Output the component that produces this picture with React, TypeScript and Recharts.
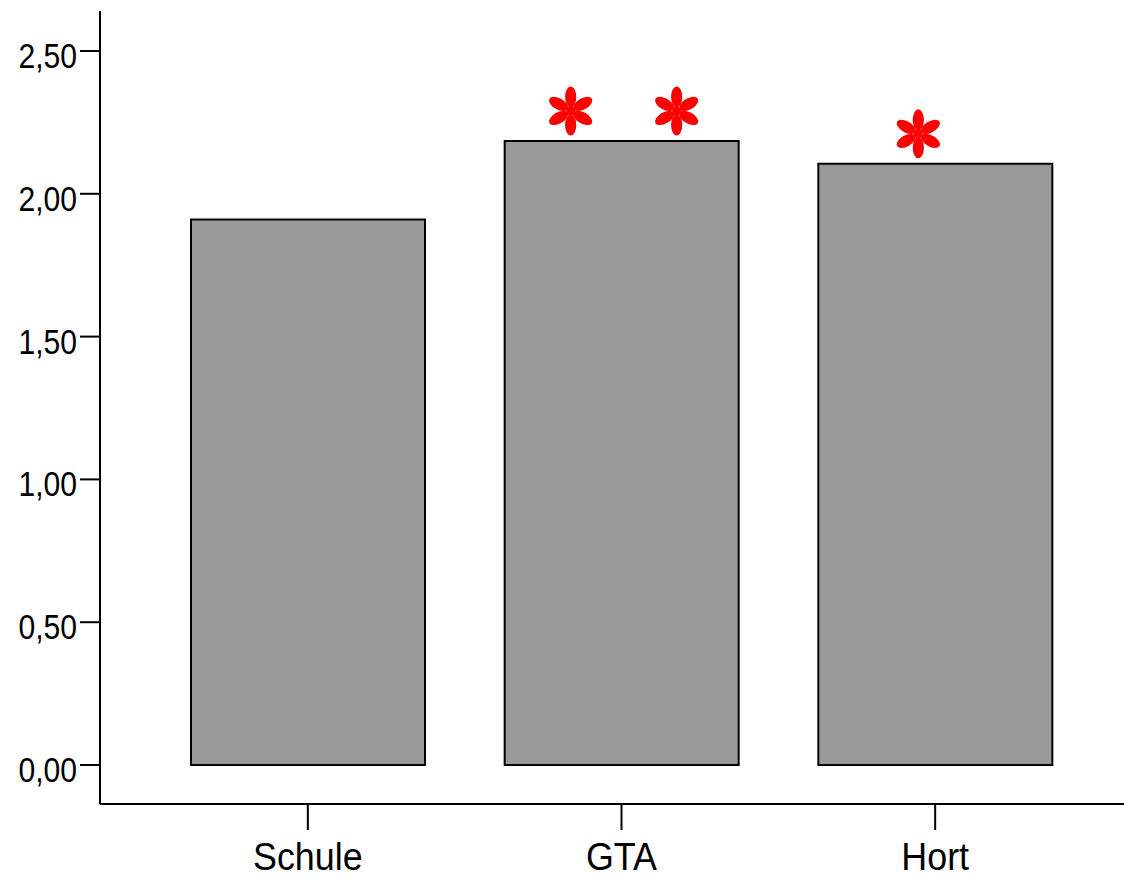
import React from 'react';
import { BarChart, Bar, XAxis, YAxis, LabelList } from 'recharts';

// categories and mean values
const categories = ['Schule', 'GTA', 'Hort'];
const means = [1.91, 2.185, 2.105];
// number of significance asterisks above each bar
const stars = [0, 2, 1];
const yTicks = [0, 0.5, 1, 1.5, 2, 2.5];

const chartData = categories.map((name, i) => ({
  name,
  value: means[i],
  stars: stars[i]
}));

const FONT = "'Liberation Sans', Arial, sans-serif";

// horizontal offsets of the asterisks relative to bar centre, by count
const STAR_OFFSETS: Record<number, number[]> = {
  1: [-17],
  2: [-51, 55]
};

const Asterisk = ({ cx, cy }: { cx: number; cy: number }) => {
  const angles = [90, 30, -30, -90, -150, 150];
  return (
    <g>
      {angles.map((a) => {
        const rad = (a * Math.PI) / 180;
        const px = cx + Math.cos(rad) * 14;
        const py = cy - Math.sin(rad) * 14;
        return (
          <ellipse
            key={a}
            cx={px}
            cy={py}
            rx={5.6}
            ry={10.5}
            fill="#ff0000"
            transform={`rotate(${90 - a} ${px} ${py})`}
          />
        );
      })}
      <circle cx={cx} cy={cy} r={4.5} fill="#ff0000" />
    </g>
  );
};

const renderStars = (props: any) => {
  const { x, y, width, value } = props;
  if (!value) return null;
  const centre = Number(x) + Number(width) / 2;
  const offsets = STAR_OFFSETS[value] || [];
  return (
    <g>
      {offsets.map((dx, i) => (
        <Asterisk key={i} cx={centre + dx} cy={Number(y) - 30} />
      ))}
    </g>
  );
};

const formatTick = (v: number) => v.toFixed(2).replace('.', ',');

// condensed tick labels (SPSS style narrow font)
const YTick = (props: any) => {
  const { x, y, payload } = props;
  return (
    <text
      transform={`translate(${x},${y + 17}) scale(0.86,1)`}
      textAnchor="end"
      fontSize={35}
      fontFamily={FONT}
      fill="#000"
    >
      {formatTick(payload.value)}
    </text>
  );
};

const XTick = (props: any) => {
  const { x, y, payload } = props;
  return (
    <text
      transform={`translate(${x},${y + 28}) scale(0.92,1)`}
      textAnchor="middle"
      fontSize={39}
      fontFamily={FONT}
      fill="#000"
    >
      {payload.value}
    </text>
  );
};

export default function App() {
  return (
    <div style={{ position: 'absolute', left: 0, top: 0, background: '#fff' }}>
      <BarChart
        width={1124}
        height={879}
        data={chartData}
        margin={{ top: 11, right: 0, bottom: 0, left: 0 }}
      >
        <XAxis
          xAxisId="top"
          orientation="top"
          dataKey="name"
          height={0}
          tick={false}
          tickLine={false}
          stroke="#000"
          strokeWidth={2}
          axisLine={{ stroke: '#000', strokeWidth: 2 }}
          padding={{ left: 51, right: 32 }}
        />
        <XAxis
          dataKey="name"
          height={75}
          padding={{ left: 51, right: 32 }}
          stroke="#000"
          strokeWidth={2}
          axisLine={{ stroke: '#000', strokeWidth: 2 }}
          tickLine={{ stroke: '#000', strokeWidth: 2 }}
          tickSize={26}
          tickMargin={12}
          tick={<XTick />}
        />
        <YAxis
          width={100}
          domain={[0, 2.5]}
          ticks={yTicks}
          padding={{ top: 40, bottom: 39 }}
          stroke="#000"
          strokeWidth={2}
          axisLine={{ stroke: '#000', strokeWidth: 2 }}
          tickLine={{ stroke: '#000', strokeWidth: 2 }}
          tickSize={20}
          tickMargin={3}
          tick={<YTick />}
        />
        <Bar
          dataKey="value"
          barSize={234}
          fill="#999999"
          stroke="#000"
          strokeWidth={2}
          isAnimationActive={false}
        >
          <LabelList dataKey="stars" content={renderStars} />
        </Bar>
      </BarChart>
    </div>
  );
}
